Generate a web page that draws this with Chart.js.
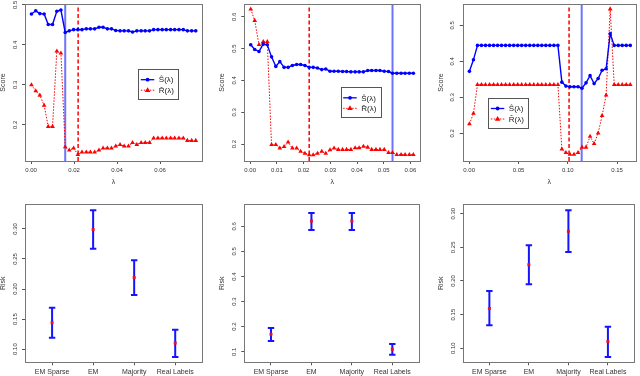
<!DOCTYPE html>
<html>
<head>
<meta charset="utf-8">
<script src="https://cdn.jsdelivr.net/npm/chart.js@4.4.1/dist/chart.umd.min.js"></script>
<style>
  html, body { margin: 0; padding: 0; background: #fff; }
  #wrap { position: relative; width: 640px; height: 376px; overflow: hidden; }
  canvas { position: absolute; }
</style>
</head>
<body>
<div id="wrap">
  <canvas id="c1" width="212" height="190" style="left:0px;top:0px"></canvas>
  <canvas id="c2" width="213" height="190" style="left:212px;top:0px"></canvas>
  <canvas id="c3" width="215" height="190" style="left:425px;top:0px"></canvas>
  <canvas id="c4" width="212" height="186" style="left:0px;top:190px"></canvas>
  <canvas id="c5" width="213" height="186" style="left:212px;top:190px"></canvas>
  <canvas id="c6" width="215" height="186" style="left:425px;top:190px"></canvas>
</div>
<script>
// ---- data: top row, score curves vs lambda ----
const lambda1 = [0.0002, 0.0022, 0.0041, 0.0061, 0.0080, 0.0100, 0.0120, 0.0139, 0.0159, 0.0178,
                 0.0198, 0.0218, 0.0237, 0.0257, 0.0276, 0.0296, 0.0316, 0.0335, 0.0355, 0.0374,
                 0.0394, 0.0414, 0.0433, 0.0453, 0.0472, 0.0492, 0.0512, 0.0531, 0.0551, 0.0570,
                 0.0590, 0.0610, 0.0629, 0.0649, 0.0668, 0.0688, 0.0708, 0.0727, 0.0747, 0.0766];
const S1 = [0.477, 0.485, 0.478, 0.477, 0.451, 0.451, 0.484, 0.487, 0.431, 0.435,
            0.438, 0.438, 0.438, 0.440, 0.440, 0.440, 0.444, 0.444, 0.440, 0.440,
            0.436, 0.435, 0.435, 0.435, 0.432, 0.435, 0.435, 0.435, 0.435, 0.438,
            0.438, 0.438, 0.438, 0.438, 0.438, 0.438, 0.438, 0.435, 0.435, 0.435];
const R1 = [0.300, 0.285, 0.274, 0.249, 0.196, 0.196, 0.384, 0.379, 0.145, 0.137,
            0.142, 0.126, 0.132, 0.132, 0.132, 0.132, 0.137, 0.142, 0.142, 0.142,
            0.147, 0.151, 0.147, 0.147, 0.156, 0.151, 0.156, 0.156, 0.156, 0.167,
            0.167, 0.167, 0.167, 0.167, 0.167, 0.167, 0.167, 0.161, 0.161, 0.161];
const vS1 = 0.0159, vR1 = 0.0219;

const lambda2 = [0.0002, 0.0017, 0.0033, 0.0049, 0.0064, 0.0080, 0.0096, 0.0111, 0.0127, 0.0142,
                 0.0158, 0.0174, 0.0189, 0.0205, 0.0221, 0.0236, 0.0252, 0.0268, 0.0283, 0.0299,
                 0.0314, 0.0330, 0.0346, 0.0361, 0.0377, 0.0393, 0.0408, 0.0424, 0.0440, 0.0455,
                 0.0471, 0.0486, 0.0502, 0.0518, 0.0533, 0.0549, 0.0565, 0.0580, 0.0596, 0.0611];
const S2 = [0.512, 0.497, 0.491, 0.514, 0.512, 0.474, 0.444, 0.459, 0.441, 0.441,
            0.447, 0.450, 0.450, 0.447, 0.441, 0.441, 0.439, 0.434, 0.436, 0.429,
            0.429, 0.429, 0.428, 0.428, 0.427, 0.427, 0.427, 0.427, 0.431, 0.431,
            0.431, 0.431, 0.429, 0.428, 0.4225, 0.4225, 0.4225, 0.4225, 0.4225, 0.4225];
const R2 = [0.624, 0.588, 0.512, 0.522, 0.522, 0.198, 0.198, 0.187, 0.192, 0.206,
            0.187, 0.187, 0.177, 0.171, 0.166, 0.166, 0.171, 0.177, 0.171, 0.182,
            0.187, 0.183, 0.183, 0.183, 0.183, 0.188, 0.188, 0.193, 0.190, 0.183,
            0.183, 0.183, 0.183, 0.173, 0.173, 0.167, 0.167, 0.167, 0.167, 0.167];
const vS2 = 0.0533, vR2 = 0.0221;

const lambda3 = [0.0002, 0.0043, 0.0084, 0.0124, 0.0165, 0.0206, 0.0247, 0.0288, 0.0328, 0.0369,
                 0.0410, 0.0451, 0.0492, 0.0532, 0.0573, 0.0614, 0.0655, 0.0696, 0.0736, 0.0777,
                 0.0818, 0.0859, 0.0900, 0.0940, 0.0981, 0.1022, 0.1063, 0.1104, 0.1144, 0.1185,
                 0.1226, 0.1267, 0.1308, 0.1348, 0.1389, 0.1430, 0.1471, 0.1512, 0.1552, 0.1593, 0.1634];
const S3 = [0.372, 0.404, 0.444, 0.444, 0.444, 0.444, 0.444, 0.444, 0.444, 0.444,
            0.444, 0.444, 0.444, 0.444, 0.444, 0.444, 0.444, 0.444, 0.444, 0.444,
            0.444, 0.444, 0.444, 0.342, 0.331, 0.329, 0.329, 0.329, 0.325, 0.340,
            0.360, 0.338, 0.352, 0.375, 0.379, 0.476, 0.444, 0.444, 0.444, 0.444, 0.444];
const R3 = [0.226, 0.255, 0.335, 0.335, 0.335, 0.335, 0.335, 0.335, 0.335, 0.335,
            0.335, 0.335, 0.335, 0.335, 0.335, 0.335, 0.335, 0.335, 0.335, 0.335,
            0.335, 0.335, 0.335, 0.156, 0.146, 0.141, 0.141, 0.146, 0.161, 0.161,
            0.191, 0.171, 0.200, 0.249, 0.306, 0.545, 0.335, 0.335, 0.335, 0.335, 0.335];
const vS3 = 0.1141, vR3 = 0.1013;

// ---- data: bottom row, risk with error bars ----
const methods = ['EM Sparse', 'EM', 'Majority', 'Real Labels'];
const risk4 = [0.144, 0.299, 0.219, 0.110];
const lo4   = [0.119, 0.267, 0.190, 0.087];
const hi4   = [0.169, 0.331, 0.248, 0.132];
const risk5 = [0.170, 0.621, 0.621, 0.110];
const lo5   = [0.143, 0.586, 0.586, 0.088];
const hi5   = [0.195, 0.653, 0.653, 0.131];
const risk6 = [0.159, 0.224, 0.274, 0.110];
const lo6   = [0.134, 0.195, 0.243, 0.087];
const hi6   = [0.185, 0.253, 0.305, 0.132];

// ---- tick labels ----
const xTicks1 = [0, 0.02, 0.04, 0.06];
const xLabels1 = ['0.00', '0.02', '0.04', '0.06'];
const yTicks1 = [0.2, 0.3, 0.4, 0.5];
const yLabels1 = ['0.2', '0.3', '0.4', '0.5'];
const xTicks2 = [0, 0.01, 0.02, 0.03, 0.04, 0.05, 0.06];
const xLabels2 = ['0.00', '0.01', '0.02', '0.03', '0.04', '0.05', '0.06'];
const yTicks2 = [0.2, 0.3, 0.4, 0.5, 0.6];
const yLabels2 = ['0.2', '0.3', '0.4', '0.5', '0.6'];
const xTicks3 = [0, 0.05, 0.10, 0.15];
const xLabels3 = ['0.00', '0.05', '0.10', '0.15'];
const yTicks3 = [0.2, 0.3, 0.4, 0.5];
const yLabels3 = ['0.2', '0.3', '0.4', '0.5'];
const catTicks = [1, 2, 3, 4];
const yTicks4 = [0.10, 0.15, 0.20, 0.25, 0.30];
const yLabels4 = ['0.10', '0.15', '0.20', '0.25', '0.30'];
const yTicks5 = [0.1, 0.2, 0.3, 0.4, 0.5, 0.6];
const yLabels5 = ['0.1', '0.2', '0.3', '0.4', '0.5', '0.6'];
const yTicks6 = [0.10, 0.15, 0.20, 0.25, 0.30];
const yLabels6 = ['0.10', '0.15', '0.20', '0.25', '0.30'];

const FONT = '"Liberation Sans", Arial, Helvetica, sans-serif';
const BLUE = '#0000ff';
const RED = '#ff0000';
Chart.defaults.font.family = FONT;
Chart.defaults.color = '#333';

// R-like frame, rotated y tick labels, axis titles, legend
const rStyle = {
    id: 'rStyle',
    afterDraw(chart, args, o) {
        const { ctx, chartArea: a, scales } = chart;
        ctx.save();
        ctx.strokeStyle = '#777';
        ctx.lineWidth = 1;
        ctx.strokeRect(Math.round(a.left) + 0.5, Math.round(a.top) + 0.5,
                       Math.round(a.right - a.left), Math.round(a.bottom - a.top));

        ctx.fillStyle = '#333';
        ctx.textAlign = 'center';
        ctx.textBaseline = 'middle';
        ctx.font = '6px ' + FONT;
        scales.y.ticks.forEach(t => {
            const py = scales.y.getPixelForValue(t.value);
            ctx.save();
            ctx.translate(a.left - 10, py);
            ctx.rotate(-Math.PI / 2);
            ctx.fillText(t.label, 0, 0);
            ctx.restore();
        });

        ctx.font = '7px ' + FONT;
        ctx.save();
        ctx.translate(a.left - 22, (a.top + a.bottom) / 2);
        ctx.rotate(-Math.PI / 2);
        ctx.fillText(o.yTitle, 0, 0);
        ctx.restore();
        if (o.xTitle) ctx.fillText(o.xTitle, (a.left + a.right) / 2, a.bottom + 21);

        if (o.legend) {
            const lx = a.left + o.legend[0], ly = a.top + o.legend[1];
            ctx.fillStyle = '#fff';
            ctx.fillRect(lx, ly, 40, 30);
            ctx.strokeStyle = '#555';
            ctx.strokeRect(Math.round(lx) + 0.5, Math.round(ly) + 0.5, 40, 30);
            const r1 = ly + 10.5, r2 = ly + 21;
            // S row
            ctx.strokeStyle = BLUE; ctx.lineWidth = 1.3;
            ctx.beginPath(); ctx.moveTo(lx + 2.5, r1); ctx.lineTo(lx + 16, r1); ctx.stroke();
            ctx.fillStyle = BLUE;
            ctx.beginPath(); ctx.arc(lx + 9.3, r1, 1.9, 0, Math.PI * 2); ctx.fill();
            // R row
            ctx.strokeStyle = RED; ctx.lineWidth = 1;
            ctx.setLineDash([1.5, 1.5]);
            ctx.beginPath(); ctx.moveTo(lx + 2.5, r2); ctx.lineTo(lx + 16, r2); ctx.stroke();
            ctx.setLineDash([]);
            ctx.fillStyle = RED;
            ctx.beginPath();
            ctx.moveTo(lx + 9.3, r2 - 3); ctx.lineTo(lx + 12.1, r2 + 1.8); ctx.lineTo(lx + 6.5, r2 + 1.8);
            ctx.closePath(); ctx.fill();
            ctx.fillStyle = '#222';
            ctx.textAlign = 'left';
            ctx.font = '8px ' + FONT;
            ctx.fillText('\u015C(\u03BB)', lx + 20.5, r1 + 0.5);
            ctx.fillText('R\u0302(\u03BB)', lx + 20.5, r2 + 0.5);
        }
        ctx.restore();
    }
};

function axes(p) {
    return {
        x: {
            type: 'linear', min: p.xMin, max: p.xMax,
            afterBuildTicks: s => { s.ticks = p.xTicks.map(v => ({ value: v })); },
            afterFit: s => { s.height = p.xH; },
            ticks: { callback: (v, i) => p.xLabels[i], autoSkip: false, maxRotation: 0,
                     padding: p.xPad, font: { size: p.xFont } },
            grid: { drawOnChartArea: false, drawTicks: true, tickLength: 3, color: '#555' },
            border: { display: false }
        },
        y: {
            type: 'linear', min: p.yMin, max: p.yMax,
            afterBuildTicks: s => { s.ticks = p.yTicks.map(v => ({ value: v })); },
            afterFit: s => { s.width = p.yW; },
            ticks: { display: false, callback: (v, i) => p.yLabels[i] },
            grid: { drawOnChartArea: false, drawTicks: true, tickLength: 3, color: '#555' },
            border: { display: false }
        }
    };
}

function scoreChart(id, p) {
    const pts = (xs, ys) => xs.map((x, i) => ({ x: x, y: ys[i] }));
    new Chart(document.getElementById(id), {
        type: 'line',
        data: {
            datasets: [
                { data: pts(p.xs, p.S), borderColor: BLUE, backgroundColor: BLUE, borderWidth: 1.4,
                  pointStyle: 'circle', pointRadius: 1.8, pointBorderWidth: 0, tension: 0 },
                { data: pts(p.xs, p.R), borderColor: RED, backgroundColor: RED, borderWidth: 1,
                  borderDash: [1.5, 1.5], pointStyle: 'triangle', pointRadius: 2.7, pointBorderWidth: 0, tension: 0 },
                { data: [{ x: p.vS, y: p.yMin }, { x: p.vS, y: p.yMax }], borderColor: 'rgba(70,80,255,0.8)',
                  borderWidth: 2, pointRadius: 0 },
                { data: [{ x: p.vR, y: p.yMin }, { x: p.vR, y: p.yMax }], borderColor: RED,
                  borderWidth: 1.5, borderDash: [4, 2.5], pointRadius: 0 }
            ]
        },
        options: {
            responsive: false, animation: false, events: [],
            layout: { padding: p.pad },
            plugins: { legend: { display: false }, tooltip: { enabled: false },
                       rStyle: { yTitle: 'Score', xTitle: '\u03BB', legend: p.legend } },
            scales: axes(p)
        },
        plugins: [rStyle]
    });
}

function riskChart(id, p) {
    const bars = p.lo.map((l, i) => ({
        data: [{ x: catTicks[i], y: l }, { x: catTicks[i], y: p.hi[i] }],
        borderColor: '#1414ff', borderWidth: 2, pointStyle: 'line', pointRadius: 3.2,
        pointBorderWidth: 2, pointBorderColor: '#1414ff'
    }));
    new Chart(document.getElementById(id), {
        type: 'line',
        data: {
            datasets: [{ data: p.risk.map((r, i) => ({ x: catTicks[i], y: r })), showLine: false,
                         pointStyle: 'rect', pointRadius: 2.1, pointBorderWidth: 0,
                         pointBackgroundColor: '#e8102a', backgroundColor: '#e8102a' }].concat(bars)
        },
        options: {
            responsive: false, animation: false, events: [],
            layout: { padding: p.pad },
            plugins: { legend: { display: false }, tooltip: { enabled: false },
                       rStyle: { yTitle: 'Risk' } },
            scales: axes(p)
        },
        plugins: [rStyle]
    });
}

scoreChart('c1', { xs: lambda1, S: S1, R: R1, vS: vS1, vR: vR1,
    xMin: -0.0028, xMax: 0.0795, yMin: 0.110, yMax: 0.502,
    xTicks: xTicks1, xLabels: xLabels1, yTicks: yTicks1, yLabels: yLabels1,
    pad: { left: 0, right: 10, top: 2.5, bottom: 0 }, yW: 25, xH: 29, xPad: 3, xFont: 6,
    legend: [113.3, 65.2] });
scoreChart('c2', { xs: lambda2, S: S2, R: R2, vS: vS2, vR: vR2,
    xMin: -0.0022, xMax: 0.0637, yMin: 0.147, yMax: 0.640,
    xTicks: xTicks2, xLabels: xLabels2, yTicks: yTicks2, yLabels: yLabels2,
    pad: { left: 0, right: 4.7, top: 2.7, bottom: 0 }, yW: 32.3, xH: 29, xPad: 3, xFont: 6,
    legend: [96.4, 83.3] });
scoreChart('c3', { xs: lambda3, S: S3, R: R3, vS: vS3, vR: vR3,
    xMin: -0.0066, xMax: 0.1692, yMin: 0.123, yMax: 0.559,
    xTicks: xTicks3, xLabels: xLabels3, yTicks: yTicks3, yLabels: yLabels3,
    pad: { left: 0, right: 3.3, top: 2.7, bottom: 0 }, yW: 37.7, xH: 29, xPad: 3, xFont: 6,
    legend: [25.6, 94] });

riskChart('c4', { risk: risk4, lo: lo4, hi: hi4,
    xMin: 0.34, xMax: 4.66, yMin: 0.078, yMax: 0.341,
    xTicks: catTicks, xLabels: methods, yTicks: yTicks4, yLabels: yLabels4,
    pad: { left: 0, right: 9.7, top: 14.3, bottom: 0 }, yW: 25, xH: 13.7, xPad: 2.5, xFont: 7 });
riskChart('c5', { risk: risk5, lo: lo5, hi: hi5,
    xMin: 0.34, xMax: 4.66, yMin: 0.058, yMax: 0.688,
    xTicks: catTicks, xLabels: methods, yTicks: yTicks5, yLabels: yLabels5,
    pad: { left: 0, right: 4.7, top: 14.3, bottom: 0 }, yW: 32.3, xH: 13.7, xPad: 2.5, xFont: 7 });
riskChart('c6', { risk: risk6, lo: lo6, hi: hi6,
    xMin: 0.34, xMax: 4.66, yMin: 0.079, yMax: 0.314,
    xTicks: catTicks, xLabels: methods, yTicks: yTicks6, yLabels: yLabels6,
    pad: { left: 0, right: 2.3, top: 14.3, bottom: 0 }, yW: 38.3, xH: 13.7, xPad: 2.5, xFont: 7 });
</script>
</body>
</html>
